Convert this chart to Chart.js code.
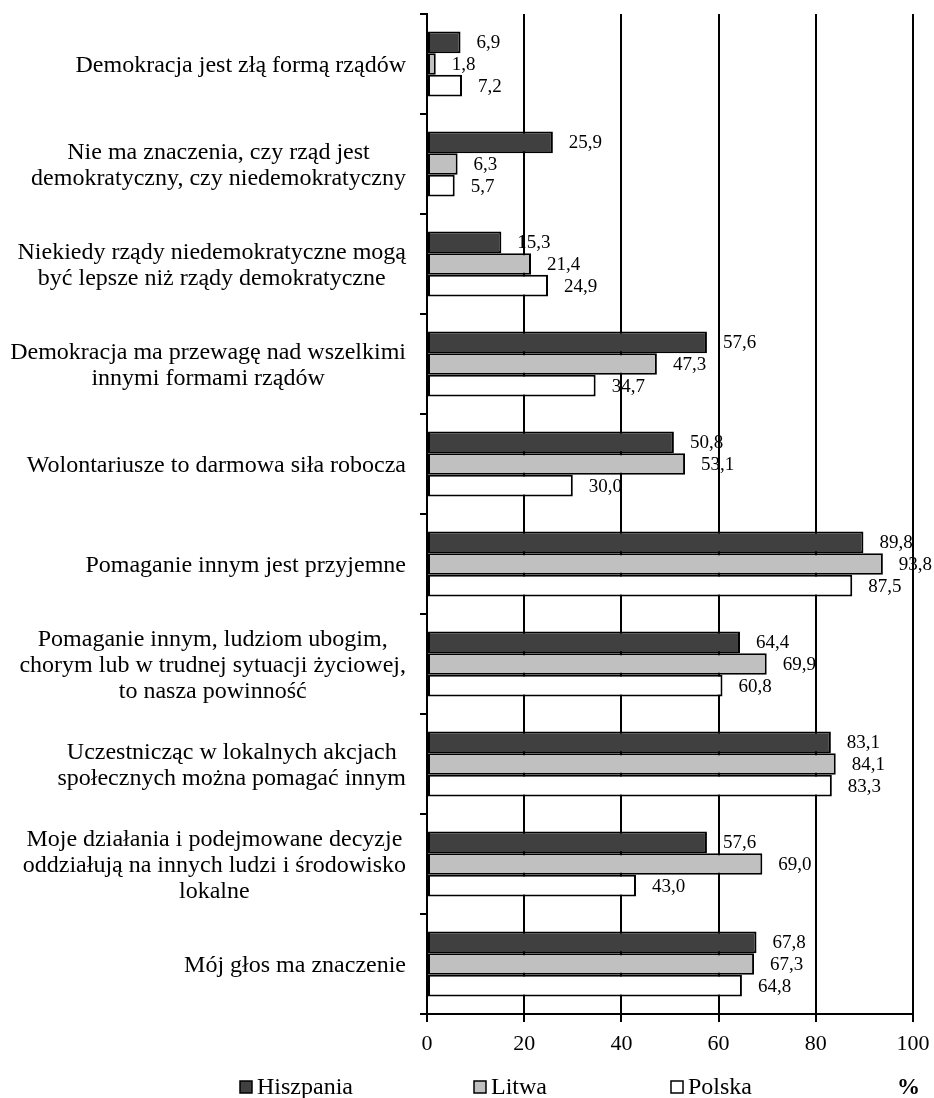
<!DOCTYPE html>
<html>
<head>
<meta charset="utf-8">
<script src="https://cdn.jsdelivr.net/npm/chart.js@4"></script>
<style>
  html, body { margin: 0; padding: 0; background: #fff; }
  #wrap { width: 934px; height: 1098px; position: relative; }
</style>
</head>
<body>
<div id="wrap"><canvas id="chart"></canvas></div>
<script>
// ================================
// DATA
// ================================
const categories = [
    "Demokracja jest złą formą rządów",
    ["Nie ma znaczenia, czy rząd jest", "demokratyczny, czy niedemokratyczny"],
    ["Niekiedy rządy niedemokratyczne mogą", "być lepsze niż rządy demokratyczne"],
    ["Demokracja ma przewagę nad wszelkimi", "innymi formami rządów"],
    "Wolontariusze to darmowa siła robocza",
    "Pomaganie innym jest przyjemne",
    ["Pomaganie innym, ludziom ubogim,", "chorym lub w trudnej sytuacji życiowej,", "to nasza powinność"],
    ["Uczestnicząc w lokalnych akcjach", "społecznych można pomagać innym"],
    ["Moje działania i podejmowane decyzje", "oddziałują na innych ludzi i środowisko", "lokalne"],
    "Mój głos ma znaczenie"
];
const hiszpania = [6.9, 25.9, 15.3, 57.6, 50.8, 89.8, 64.4, 83.1, 57.6, 67.8];
const litwa     = [1.8, 6.3, 21.4, 47.3, 53.1, 93.8, 69.9, 84.1, 69.0, 67.3];
const polska    = [7.2, 5.7, 24.9, 34.7, 30.0, 87.5, 60.8, 83.3, 43.0, 64.8];
const seriesNames = ["Hiszpania", "Litwa", "Polska"];
const unitLabel = "%";

const SERIF = '"Liberation Serif", "Times New Roman", serif';
const colors = ["#404040", "#c0c0c0", "#ffffff"];

// ================================
// CATEGORY LABELS (right-aligned blocks, centred lines)
// ================================
const categoryLabels = {
    id: "categoryLabels",
    afterDraw(chart) {
        const { ctx } = chart;
        const y = chart.scales.y;
        ctx.save();
        ctx.font = "24px " + SERIF;
        ctx.fillStyle = "#000";
        ctx.textAlign = "center";
        ctx.textBaseline = "middle";
        categories.forEach((label, i) => {
            const lines = Array.isArray(label) ? label : [label];
            const w = Math.max(...lines.map(l => ctx.measureText(l).width));
            const cx = y.right - 21 - w / 2;
            const cy = y.getPixelForValue(i) + 2;
            lines.forEach((line, j) => {
                ctx.fillText(line, cx, cy + (j - (lines.length - 1) / 2) * 26);
            });
        });
        ctx.restore();
    }
};

// ================================
// VALUE LABELS
// ================================
const valueLabels = {
    id: "valueLabels",
    afterDatasetsDraw(chart) {
        const { ctx } = chart;
        ctx.save();
        ctx.font = "19px " + SERIF;
        ctx.fillStyle = "#000";
        ctx.textAlign = "left";
        ctx.textBaseline = "middle";
        chart.data.datasets.forEach((ds, di) => {
            chart.getDatasetMeta(di).data.forEach((bar, i) => {
                const txt = ds.data[i].toFixed(1).replace(".", ",");
                ctx.fillText(txt, bar.x + 16, bar.y + 1);
            });
        });
        ctx.restore();
    }
};

// ================================
// LEGEND
// ================================
const legendPlugin = {
    id: "bottomLegend",
    afterDraw(chart) {
        const { ctx } = chart;
        const boxX = [240, 474, 671];
        const midY = 1087;
        ctx.save();
        ctx.font = "24px " + SERIF;
        ctx.textBaseline = "middle";
        ctx.textAlign = "left";
        seriesNames.forEach((name, i) => {
            ctx.fillStyle = colors[i];
            ctx.fillRect(boxX[i], midY - 6, 12, 12);
            ctx.strokeStyle = "#000";
            ctx.lineWidth = 1.5;
            ctx.strokeRect(boxX[i], midY - 6, 12, 12);
            ctx.fillStyle = "#000";
            ctx.fillText(name, boxX[i] + 17, midY + 1);
        });
        ctx.font = "bold 23px " + SERIF;
        ctx.fillText(unitLabel, 897, midY + 1);
        ctx.restore();
    }
};

// ================================
// CHART
// ================================
new Chart(document.getElementById("chart"), {
    type: "bar",
    data: {
        labels: categories,
        datasets: [hiszpania, litwa, polska].map((values, i) => ({
            label: seriesNames[i],
            data: values,
            backgroundColor: colors[i],
            borderColor: "#000",
            borderWidth: 2,
            borderSkipped: false,
            categoryPercentage: 0.65,
            barPercentage: 1.0
        }))
    },
    options: {
        indexAxis: "y",
        responsive: true,
        maintainAspectRatio: false,
        animation: false,
        layout: { padding: { top: 14, right: 21, left: 0, bottom: 0 } },
        plugins: { legend: { display: false }, tooltip: { enabled: false } },
        scales: {
            x: {
                min: 0,
                max: 100,
                ticks: {
                    stepSize: 20,
                    color: "#000",
                    padding: 9,
                    maxRotation: 0,
                    font: { family: SERIF, size: 22 }
                },
                grid: { color: "#000", lineWidth: 2, tickLength: 8 },
                border: { color: "#000", width: 2 },
                afterFit: s => { s.height = 84; s.paddingLeft = 0; s.paddingRight = 0; }
            },
            y: {
                ticks: { display: false },
                grid: { drawOnChartArea: false, offset: true, tickLength: 7, color: "#000", lineWidth: 2 },
                border: { color: "#000", width: 2 },
                afterFit: s => { s.width = 427; }
            }
        }
    },
    plugins: [categoryLabels, valueLabels, legendPlugin]
});
</script>
</body>
</html>
